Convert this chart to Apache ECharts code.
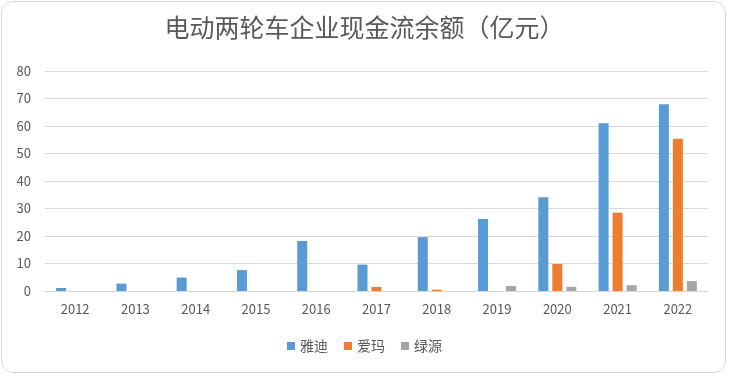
<!DOCTYPE html>
<html>
<head>
<meta charset="utf-8">
<script src="https://cdn.jsdelivr.net/npm/echarts@6/dist/echarts.min.js"></script>
<style>
  html, body { margin: 0; padding: 0; background: #fff; }
  #box {
    position: absolute; left: 1px; top: 1px; width: 725px; height: 372px;
    border: 1px solid #d9d9d9; border-radius: 12px; box-sizing: border-box;
  }
  #chart { position: absolute; left: 0; top: 0; width: 729px; height: 376px; }
</style>
</head>
<body>
<div id="box"></div>
<div id="chart"></div>
<script>
// 年份
var years = ["2012", "2013", "2014", "2015", "2016", "2017", "2018", "2019", "2020", "2021", "2022"];
// 现金流余额（亿元）
var yadi = [1.1, 2.7, 4.9, 7.6, 18.2, 9.6, 19.6, 26.2, 34.1, 61.0, 67.9];
var aima = [0, 0, 0, 0, 0, 1.5, 0.5, 0, 9.8, 28.5, 55.4];
var lvyuan = [0, 0, 0, 0, 0, 0, 0, 1.8, 1.5, 2.1, 3.6];
var names = ["雅迪", "爱玛", "绿源"];

var chart = echarts.init(document.getElementById("chart"));
var font = "'Noto Sans CJK SC', 'Microsoft YaHei', sans-serif";
chart.setOption({
  animation: false,
  textStyle: { fontFamily: font },
  color: ["#5B9BD5", "#ED7D31", "#A5A5A5"],
  title: {
    text: "电动两轮车企业现金流余额（亿元）",
    left: "center",
    top: 10,
    textStyle: { color: "#595959", fontSize: 25, fontWeight: "normal", fontFamily: font }
  },
  legend: {
    bottom: 18,
    left: "center",
    itemWidth: 8,
    itemHeight: 8,
    itemGap: 16,
    icon: "rect",
    textStyle: { color: "#595959", fontSize: 14 },
    data: names
  },
  grid: { left: 45, right: 21, top: 71, bottom: 85 },
  xAxis: {
    type: "category",
    data: years,
    axisTick: { show: false },
    axisLine: { lineStyle: { color: "#d9d9d9" } },
    axisLabel: { color: "#595959", fontSize: 13, margin: 12 }
  },
  yAxis: {
    type: "value",
    min: 0,
    max: 80,
    interval: 10,
    axisLine: { show: false },
    axisTick: { show: false },
    axisLabel: { color: "#595959", fontSize: 13, margin: 14 },
    splitLine: { lineStyle: { color: "#d9d9d9" } }
  },
  series: [
    { name: names[0], type: "bar", data: yadi, barWidth: 10, barGap: "40%" },
    { name: names[1], type: "bar", data: aima, barWidth: 10, barGap: "40%" },
    { name: names[2], type: "bar", data: lvyuan, barWidth: 10, barGap: "40%" }
  ]
});
</script>
</body>
</html>
